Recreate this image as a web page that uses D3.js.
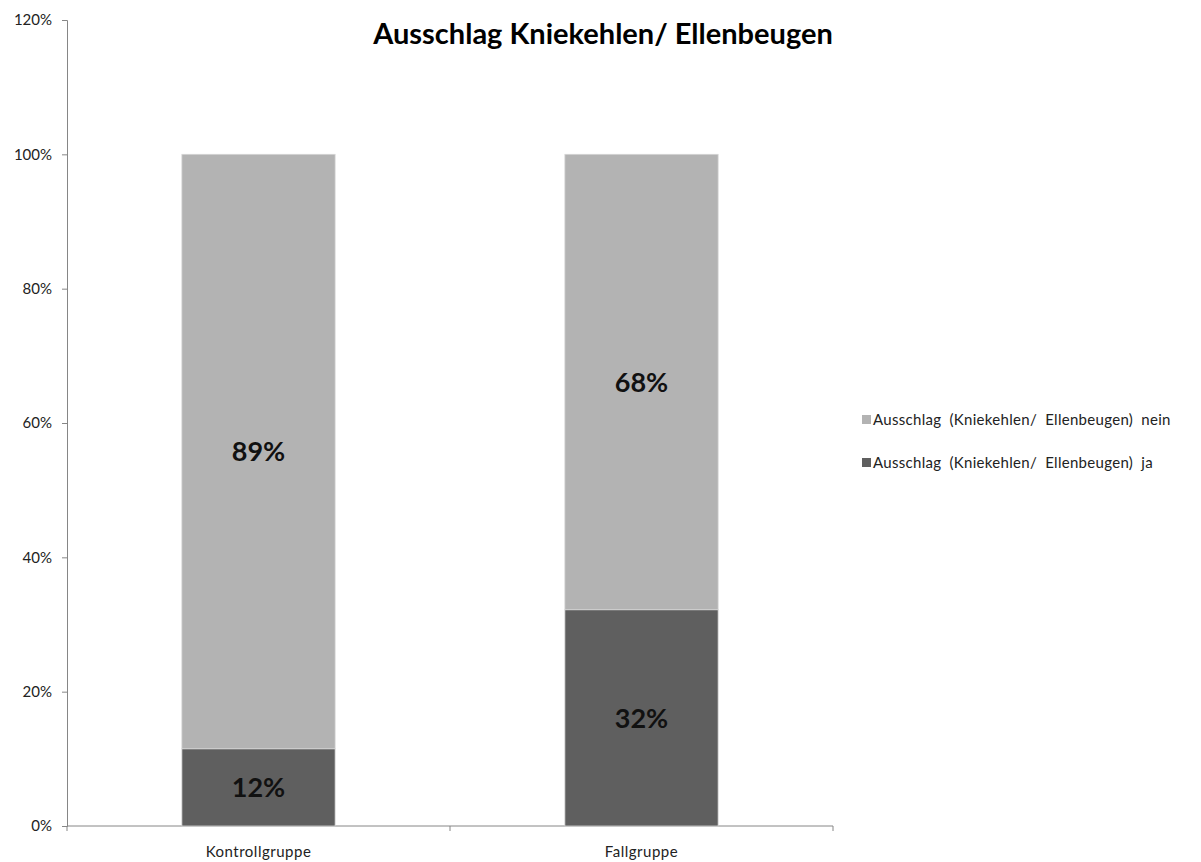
<!DOCTYPE html>
<html>
<head>
<meta charset="utf-8"/>
<title>Ausschlag Kniekehlen/ Ellenbeugen</title>
<script src="https://d3js.org/d3.v7.min.js"></script>
<style>
  body { margin: 0; background: #fff; }
  svg text { font-family: Lato, "Open Sans", sans-serif; }
  .axis path, .axis line { stroke: #868686; }
  .axis text { fill: #222; font-size: 15px; }
</style>
</head>
<body>
<div id="chart"></div>
<script>
// data
var groups = ["Kontrollgruppe", "Fallgruppe"];
var seriesNames = ["Ausschlag (Kniekehlen/ Ellenbeugen) ja", "Ausschlag (Kniekehlen/ Ellenbeugen) nein"];
var jaValues = [11.5, 32.2];
var neinValues = [88.5, 67.8];
var yTicks = [0, 20, 40, 60, 80, 100, 120];
var colors = ["#5f5f5f", "#b3b3b3"];

var width = 1201, height = 862;
var margin = {left: 67, right: 368, top: 20, bottom: 36};

var svg = d3.select("#chart").append("svg")
    .attr("width", width)
    .attr("height", height);

var x = d3.scaleBand()
    .domain(groups)
    .range([margin.left, width - margin.right])
    .paddingInner(0.6)
    .paddingOuter(0.3);

var y = d3.scaleLinear()
    .domain([0, 120])
    .range([height - margin.bottom, margin.top]);

// stack ja (bottom) + nein (top)
var rows = groups.map(function(g, i){
    return {group: g, ja: jaValues[i], nein: neinValues[i]};
});
var stack = d3.stack().keys(["ja", "nein"]);
var layers = stack(rows);

// axes
var yAxis = d3.axisLeft(y)
    .tickValues(yTicks)
    .tickSize(5)
    .tickPadding(10)
    .tickFormat(function(d){ return d + "%"; });

svg.append("g")
    .attr("class", "axis")
    .attr("transform", "translate(" + margin.left + ",0)")
    .call(yAxis);

// category axis: ticks between categories (edges), labels at centres
var xAxisG = svg.append("g")
    .attr("class", "axis")
    .attr("transform", "translate(0," + y(0) + ")");
xAxisG.append("line")
    .attr("x1", margin.left).attr("x2", width - margin.right)
    .attr("y1", 0).attr("y2", 0)
    .attr("stroke", "#868686");
var step = x.step();
var edges = d3.range(groups.length + 1).map(function(i){
    return x(groups[0]) - x.paddingOuter() * step + i * step;
});
xAxisG.selectAll(".edge")
    .data(edges)
    .enter().append("line")
    .attr("x1", function(d){ return d; })
    .attr("x2", function(d){ return d; })
    .attr("y1", 0).attr("y2", 5)
    .attr("stroke", "#868686");
xAxisG.selectAll(".cat")
    .data(groups)
    .enter().append("text")
    .attr("x", function(d){ return x(d) + x.bandwidth() / 2; })
    .attr("y", 31)
    .attr("text-anchor", "middle")
    .style("font-size", "15px")
    .style("letter-spacing", "0.5px")
    .attr("fill", "#222")
    .text(function(d){ return d; });

// bars
var layerG = svg.selectAll(".layer")
    .data(layers)
    .enter().append("g")
    .attr("class", "layer")
    .attr("fill", function(d, i){ return colors[i]; });

layerG.selectAll("rect")
    .data(function(d){ return d; })
    .enter().append("rect")
    .attr("x", function(d){ return x(d.data.group); })
    .attr("y", function(d){ return y(d[1]); })
    .attr("width", x.bandwidth())
    .attr("height", function(d){ return y(d[0]) - y(d[1]); })
    .attr("stroke", "#d4d4d4")
    .attr("stroke-width", 0.8);

layerG.selectAll(".val")
    .data(function(d){ return d; })
    .enter().append("text")
    .attr("x", function(d){ return x(d.data.group) + x.bandwidth() / 2; })
    .attr("y", function(d){ return (y(d[0]) + y(d[1])) / 2; })
    .attr("dy", "0.36em")
    .attr("text-anchor", "middle")
    .attr("fill", "#111")
    .style("font-size", "27px")
    .style("font-weight", "bold")
    .text(function(d){ return Math.round(d[1] - d[0]) + "%"; });

// title
svg.append("text")
    .attr("x", 603)
    .attr("y", 44)
    .attr("text-anchor", "middle")
    .attr("fill", "#000")
    .style("font-size", "29px")
    .style("font-weight", "bold")
    .text("Ausschlag Kniekehlen/ Ellenbeugen");

// legend (nein on top)
var legendItems = [1, 0];
var legend = svg.selectAll(".legend")
    .data(legendItems)
    .enter().append("g")
    .attr("class", "legend")
    .attr("transform", function(d, i){ return "translate(862," + (420 + i * 43) + ")"; });
legend.append("rect")
    .attr("x", 0).attr("y", -5)
    .attr("width", 9).attr("height", 9)
    .attr("fill", function(d){ return colors[d]; });
legend.append("text")
    .attr("x", 11)
    .attr("y", 0)
    .attr("dy", "0.35em")
    .attr("fill", "#222")
    .style("font-size", "15px")
    .style("letter-spacing", "0.3px")
    .style("word-spacing", "4px")
    .text(function(d){ return seriesNames[d]; });
</script>
</body>
</html>
